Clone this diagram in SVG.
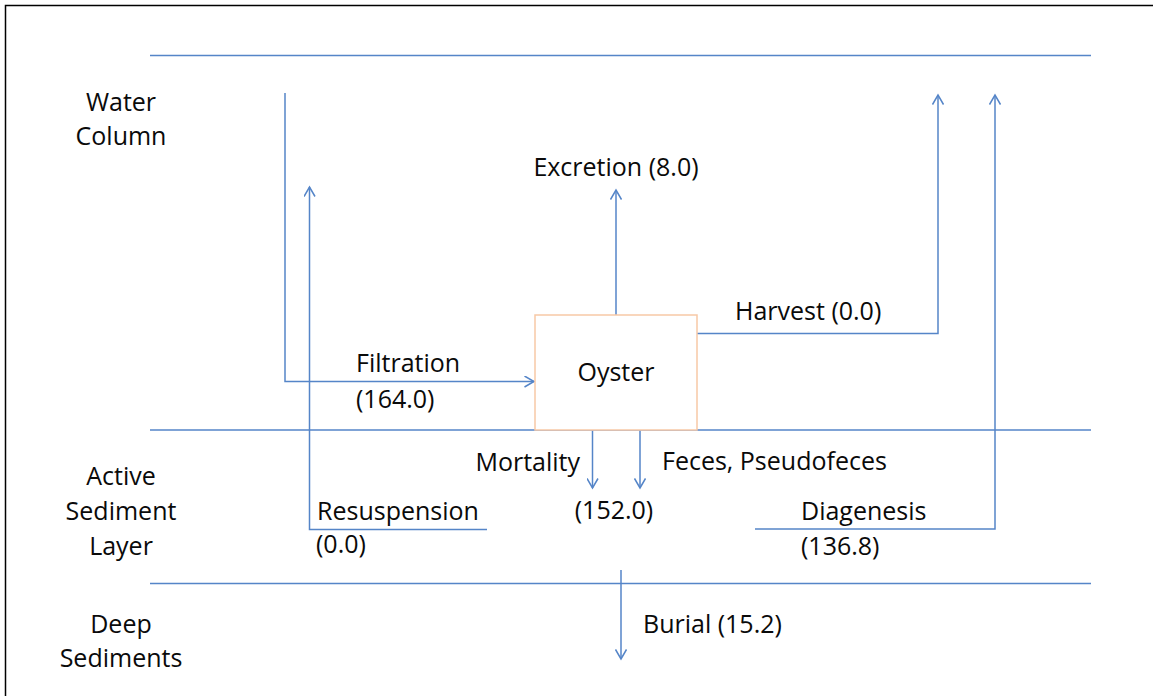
<svg xmlns="http://www.w3.org/2000/svg" width="1153" height="696" viewBox="0 0 1153 696">
  <style>
    .ln { stroke: #5585C8; stroke-width: 1.5; fill: none; }
    .t { font-family: "Open Sans", "Liberation Sans", sans-serif; font-size: 25px; fill: #0a0a0a; }
    .c { text-anchor: middle; }
  </style>
  <defs>
    <marker id="arr" viewBox="0 0 12 12" refX="10" refY="6" markerWidth="12" markerHeight="12" markerUnits="userSpaceOnUse" orient="auto">
      <path d="M0.5,0.5 L10,6 L0.5,11.5" fill="none" stroke="#5585C8" stroke-width="1.5"/>
    </marker>
  </defs>
  <rect x="0" y="0" width="1153" height="696" fill="#fff"/>
  <rect x="5.5" y="5.5" width="1170" height="720" fill="none" stroke="#000" stroke-width="1.5"/>

  <g id="layers">
    <line class="ln" x1="150" y1="55.5" x2="1091" y2="55.5"/>
    <line class="ln" x1="150" y1="430" x2="1091" y2="430"/>
    <line class="ln" x1="150" y1="583.5" x2="1091" y2="583.5"/>
    <text class="t c" x="121" y="111">Water</text>
    <text class="t c" x="121" y="145">Column</text>
    <text class="t c" x="121" y="485">Active</text>
    <text class="t c" x="121" y="520">Sediment</text>
    <text class="t c" x="121" y="555">Layer</text>
    <text class="t c" x="121" y="633">Deep</text>
    <text class="t c" x="121" y="667">Sediments</text>
  </g>

  <g id="connectors">
    <path class="ln" d="M285,93 L285,381.5 L534,381.5" marker-end="url(#arr)"/>
    <path class="ln" d="M487,529.5 L309.5,529.5 L309.5,187" marker-end="url(#arr)"/>
    <path class="ln" d="M616,315 L616,190" marker-end="url(#arr)"/>
    <path class="ln" d="M697,333.5 L938,333.5 L938,95" marker-end="url(#arr)"/>
    <path class="ln" d="M755,529 L995,529 L995,95" marker-end="url(#arr)"/>
    <path class="ln" d="M592.5,430 L592.5,488" marker-end="url(#arr)"/>
    <path class="ln" d="M640,430 L640,488" marker-end="url(#arr)"/>
    <path class="ln" d="M621,570 L621,659" marker-end="url(#arr)"/>
  </g>

  <g id="oyster">
    <rect x="535" y="315" width="162" height="115" fill="#fff" stroke="#F7C9A6" stroke-width="1.5"/>
    <text class="t c" x="616" y="381">Oyster</text>
  </g>

  <g id="labels">
    <text class="t c" x="616" y="176">Excretion (8.0)</text>
    <text class="t" x="735" y="320">Harvest (0.0)</text>
    <text class="t" x="356" y="372">Filtration</text>
    <text class="t" x="356" y="408">(164.0)</text>
    <text class="t" x="317" y="520">Resuspension</text>
    <text class="t" x="316" y="553">(0.0)</text>
    <text class="t" x="580" y="471" text-anchor="end">Mortality</text>
    <text class="t" x="662" y="470">Feces, Pseudofeces</text>
    <text class="t c" x="614" y="519">(152.0)</text>
    <text class="t" x="801" y="520">Diagenesis</text>
    <text class="t" x="801" y="555">(136.8)</text>
    <text class="t" x="643" y="633">Burial (15.2)</text>
  </g>
</svg>
